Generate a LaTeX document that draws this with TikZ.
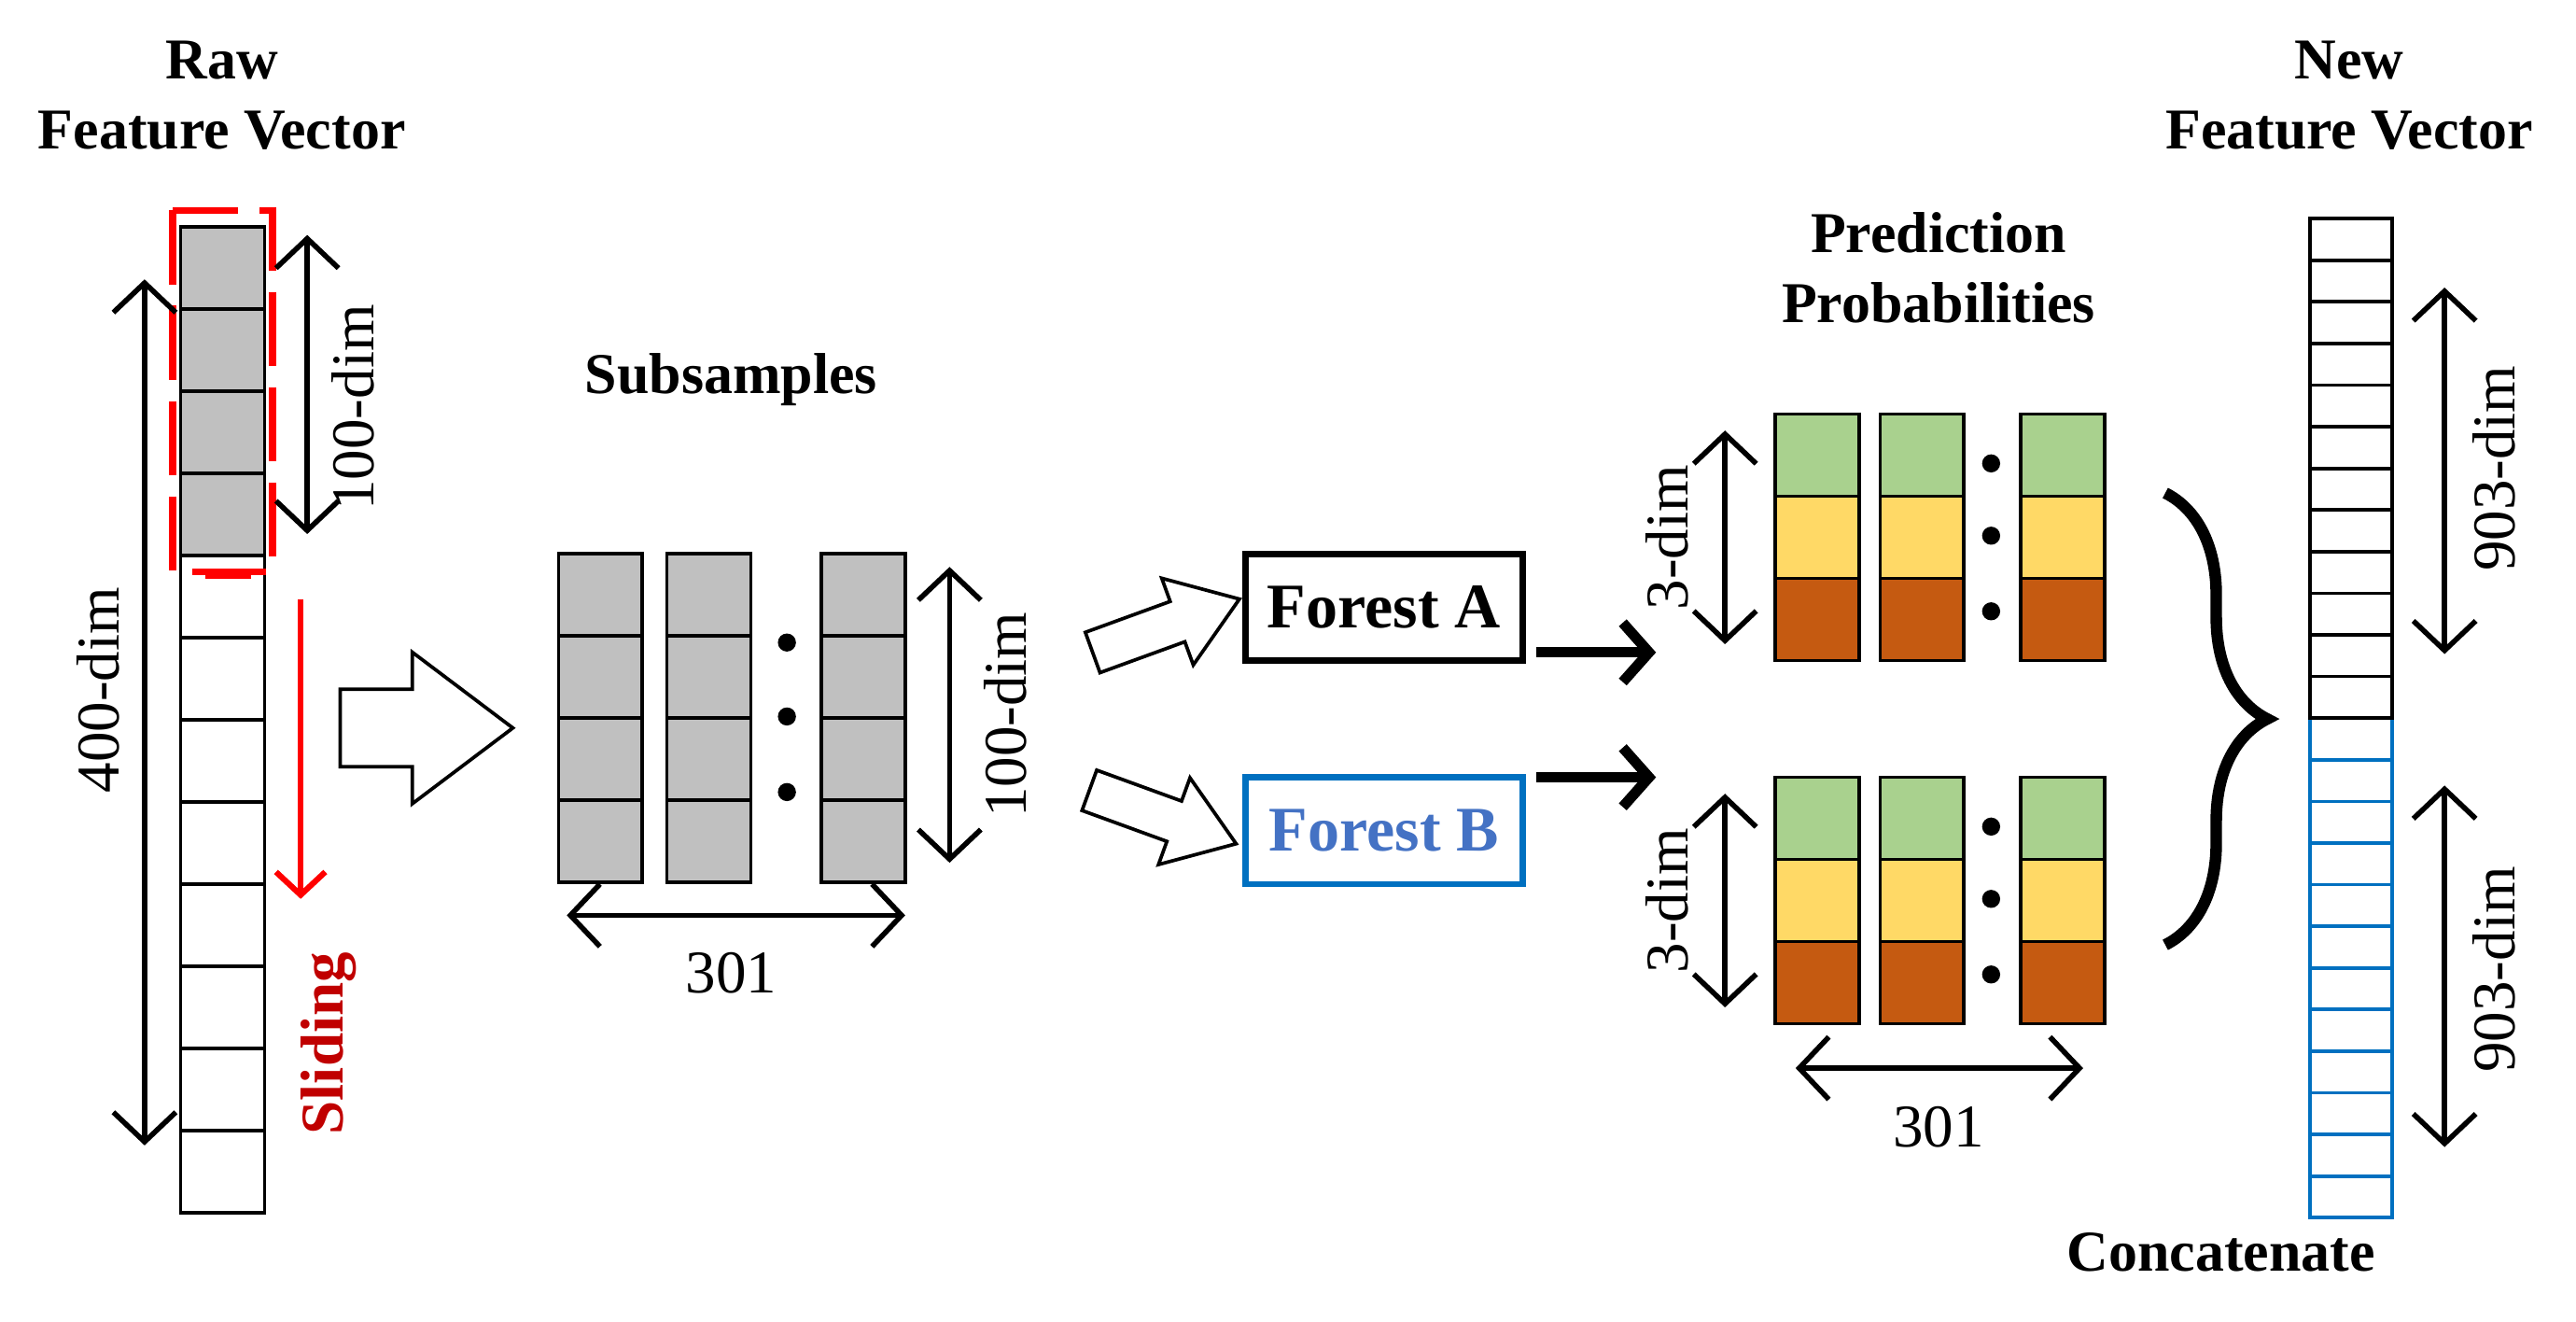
\documentclass[tikz,border=0pt]{standalone}
\usepackage{fontspec}
\setmainfont{Liberation Serif}
\usetikzlibrary{arrows.meta,positioning,shapes.arrows,decorations.pathreplacing}
\definecolor{cellgray}{HTML}{C0C0C0}
\definecolor{pgreen}{HTML}{A9D18E}
\definecolor{pyellow}{HTML}{FFD966}
\definecolor{porange}{HTML}{C55A11}
\definecolor{fblue}{HTML}{0070C0}
\definecolor{tblue}{HTML}{4472C4}
\definecolor{dred}{HTML}{C00000}
\tikzset{
  cell/.style={draw, line width=0.6pt, minimum width=0.51cm, minimum height=0.5cm, inner sep=0pt},
  ncell/.style={draw, line width=0.6pt, minimum width=0.5cm, minimum height=0.253cm, inner sep=0pt},
  dimarrow/.style={line width=0.9pt, {Straight Barb[length=1.8mm,width=3.8mm]}-{Straight Barb[length=1.8mm,width=3.8mm]}},
  title/.style={font=\fontsize{10}{12}\selectfont\bfseries, align=center},
  dimlabel/.style={font=\fontsize{10.5}{12}\selectfont, rotate=90},
  hollow/.style={draw, line width=0.6pt, single arrow, single arrow head indent=0pt, inner xsep=0pt, text height=0pt, text depth=0pt},
  forest/.style={draw, line width=1.1pt, minimum width=1.69cm, minimum height=0.65cm, font=\fontsize{11}{13}\selectfont\bfseries},
  dot/.style={circle, fill, inner sep=0pt, minimum size=1.1mm}
}
\begin{document}
\begin{tikzpicture}[x=0.01cm, y=-0.01cm]
\useasboundingbox (0,0) rectangle (1568,804);
% raw feature vector
\node[title] (rawt) at (135,58) {Raw\\Feature Vector};
\foreach \i in {0,...,11}{
  \ifnum\i<4
    \node[cell, fill=cellgray] (r\i) at (135.5,163+50*\i) {};
  \else
    \node[cell] (r\i) at (135.5,163+50*\i) {};
  \fi
}
\draw[red, line width=1.2pt, dash pattern=on 4.5mm off 1.3mm] (105,128) rectangle (166,348);
\draw[red, line width=1.2pt] (125,350) -- (153,350);
\coordinate (s1) at (183,365);
\coordinate (s2) at (183,547);
\draw[red, line width=1pt, -{Straight Barb[length=1.4mm,width=3mm]}] (s1) -- (s2);
\node[dimlabel, font=\fontsize{10.5}{12}\selectfont\bfseries, text=dred] (slide) at (200,635) {Sliding};
\coordinate (l1) at (88,170);
\coordinate (l2) at (88,697);
\draw[dimarrow] (l1) -- (l2);
\node[dimlabel] (lab400) at (60,420) {400-dim};
\coordinate (h1) at (187,143);
\coordinate (h2) at (187,325);
\draw[dimarrow] (h1) -- (h2);
\node[dimlabel] (lab100a) at (215,248) {100-dim};
\node[hollow, inner ysep=0.225cm, single arrow head extend=0.225cm, minimum height=1.05cm, single arrow tip angle=74] (big) at (244,443) {};
% subsamples
\node[title] (subt) at (445,231) {Subsamples};
\foreach \c/\x in {a/365.5, b/431.5, c/525.5}{
  \foreach \i in {0,...,3}{
    \node[cell, fill=cellgray] (\c\i) at (\x,362+50*\i) {};
  }
}
\foreach \y in {391,436,482} \node[dot] at (479,\y) {};
\coordinate (w1) at (345,557);
\coordinate (w2) at (551,557);
\draw[dimarrow] (w1) -- (w2);
\node[font=\fontsize{10.5}{12}\selectfont] (w301) at (445,592) {301};
\coordinate (v1) at (578,345);
\coordinate (v2) at (578,525);
\draw[dimarrow] (v1) -- (v2);
\node[dimlabel] (lab100b) at (612,435) {100-dim};
\node[hollow, inner ysep=0.12cm, single arrow head extend=0.15cm, minimum height=0.95cm, single arrow tip angle=70, rotate=20] (ua) at (701,384) {};
\node[hollow, inner ysep=0.12cm, single arrow head extend=0.15cm, minimum height=0.95cm, single arrow tip angle=70, rotate=-20] (da) at (699,494) {};
% forests
\node[forest] (fa) at (842.5,369.5) {Forest A};
\node[forest, draw=fblue, text=tblue] (fb) at (842.5,505.5) {Forest B};
\coordinate (fa1) at (935,397);
\coordinate (fb1) at (935,473);
\coordinate (pa) at (1008,397);
\coordinate (pb) at (1008,473);
\draw[line width=1.8pt, -{Straight Barb[length=1.6mm,width=3.6mm]}] (fa1) -- (pa);
\draw[line width=1.8pt, -{Straight Barb[length=1.6mm,width=3.6mm]}] (fb1) -- (pb);
% prediction probabilities
\node[title] (prt) at (1180,163) {Prediction\\Probabilities};
\foreach \t/\y in {u/252, d/473}{
  \foreach \c/\x in {1/1106, 2/1170, 3/1255.5}{
    \node[cell, fill=pgreen] (\t g\c) at (\x,\y+25) {};
    \node[cell, fill=pyellow] (\t y\c) at (\x,\y+75) {};
    \node[cell, fill=porange] (\t o\c) at (\x,\y+125) {};
  }
  \foreach \d in {30,74,120} \node[dot] at (1212,\y+\d) {};
}
\coordinate (p1) at (1050,262);
\coordinate (p2) at (1050,392);
\coordinate (p3) at (1050,483);
\coordinate (p4) at (1050,613);
\draw[dimarrow] (p1) -- (p2);
\draw[dimarrow] (p3) -- (p4);
\node[dimlabel] (lab3a) at (1015,327) {3-dim};
\node[dimlabel] (lab3b) at (1015,548) {3-dim};
\coordinate (q1) at (1093,650);
\coordinate (q2) at (1268,650);
\draw[dimarrow] (q1) -- (q2);
\node[font=\fontsize{10.5}{12}\selectfont] (q301) at (1180,686) {301};
\coordinate (b1) at (1318,300);
\coordinate (b2) at (1318,575);
\draw[line width=2pt, decorate, decoration={brace, amplitude=0.62cm}] (b1) -- (b2);
% new feature vector
\node[title] (newt) at (1430,58) {New\\Feature Vector};
\foreach \i in {0,...,11}{
  \node[ncell] (n\i) at (1431,145.7+25.33*\i) {};
  \node[ncell, draw=fblue] (m\i) at (1431,449.7+25.33*\i) {};
}
\coordinate (e1) at (1488,175);
\coordinate (e2) at (1488,398);
\coordinate (e3) at (1488,478);
\coordinate (e4) at (1488,698);
\draw[dimarrow] (e1) -- (e2);
\draw[dimarrow] (e3) -- (e4);
\node[dimlabel] (lab903a) at (1518,285) {903-dim};
\node[dimlabel] (lab903b) at (1518,590) {903-dim};
\node[title] (cct) at (1352,762) {Concatenate};
\end{tikzpicture}
\end{document}
